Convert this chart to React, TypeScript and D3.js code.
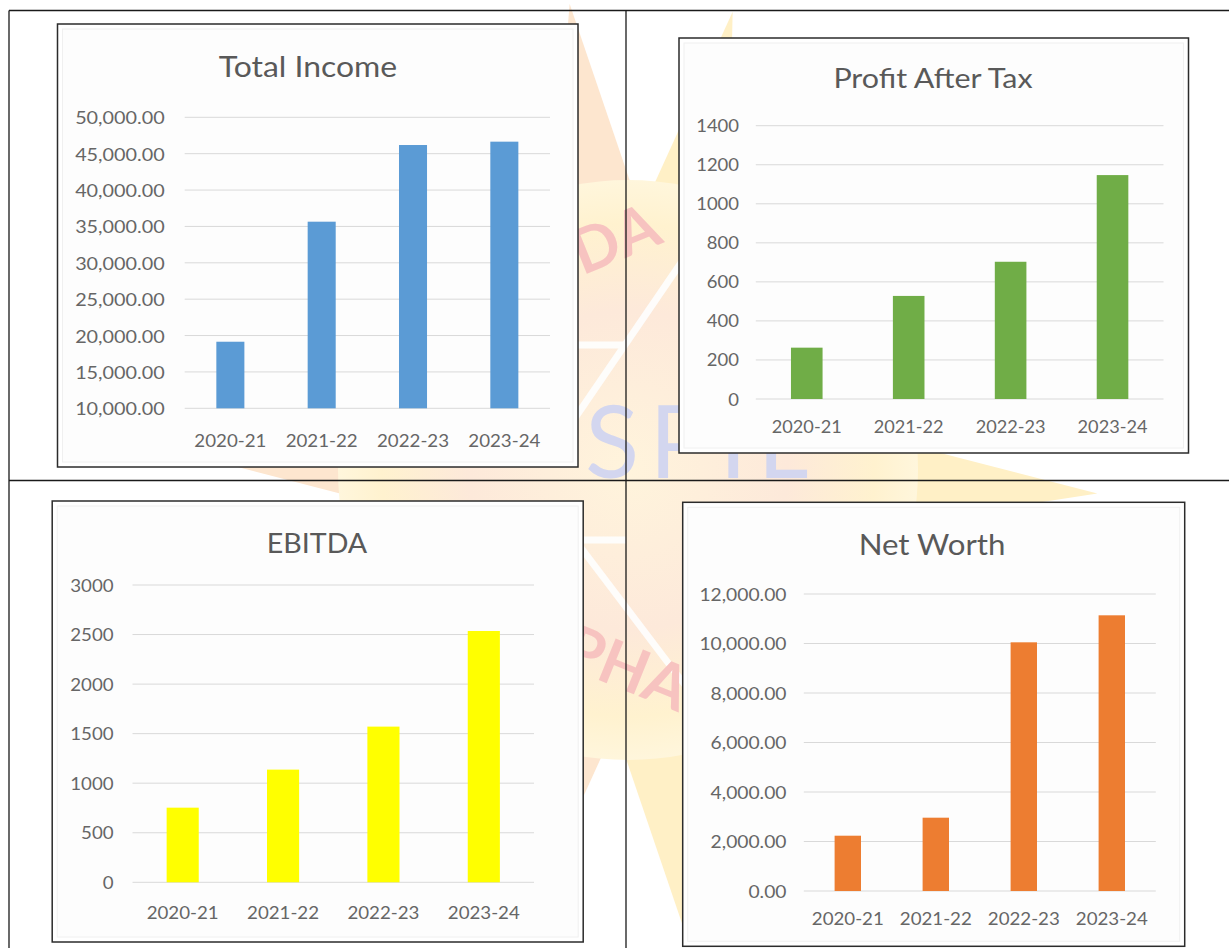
import React from "react";
import * as d3 from "d3";

const categories = ["2020-21", "2021-22", "2022-23", "2023-24"];

const totalIncome = [19150, 35650, 46190, 46650];
const profitAfterTax = [263, 528, 703, 1147];
const ebitda = [753, 1137, 1571, 2536];
const netWorth = [2234, 2962, 10048, 11139];

const totalIncomeTicks = [10000, 15000, 20000, 25000, 30000, 35000, 40000, 45000, 50000];
const profitTicks = [0, 200, 400, 600, 800, 1000, 1200, 1400];
const ebitdaTicks = [0, 500, 1000, 1500, 2000, 2500, 3000];
const netWorthTicks = [0, 2000, 4000, 6000, 8000, 10000, 12000];

const W = 1229;
const H = 948;
const FONT = "Lato, 'Open Sans', sans-serif";
const TITLE_COLOR = "#595959";
const TICK_COLOR = "#666666";
const SX = 1.1;

type Spec = {
  title: string;
  values: number[];
  ticks: number[];
  fmt: (v: number) => string;
  color: string;
  box: [number, number, number, number];
  px: [number, number];
  py: [number, number];
  barRatio: number;
  labelRight: number;
  xLabelY: number;
  titleX: number;
  titleY: number;
  titleSize: number;
  tickSize: number;
  xSize: number;
};

const fmt2 = d3.format(",.2f");
const fmt0 = d3.format("d");

const specs: Spec[] = [
  {
    title: "Total Income", values: totalIncome, ticks: totalIncomeTicks, fmt: fmt2, color: "#5B9BD5",
    box: [57.5, 24, 520.5, 443], px: [184.7, 550], py: [408.3, 117.3], barRatio: 0.307,
    labelRight: 164.7, xLabelY: 440, titleX: 308, titleY: 77.3, titleSize: 29, tickSize: 18, xSize: 17,
  },
  {
    title: "Profit After Tax", values: profitAfterTax, ticks: profitTicks, fmt: fmt0, color: "#70AD47",
    box: [679, 38, 509.5, 415], px: [755.8, 1163.5], py: [399, 125.7], barRatio: 0.31,
    labelRight: 739, xLabelY: 426.7, titleX: 933, titleY: 88.3, titleSize: 27.3, tickSize: 16.8, xSize: 16.5,
  },
  {
    title: "EBITDA", values: ebitda, ticks: ebitdaTicks, fmt: fmt0, color: "#FFFF00",
    box: [52.2, 501, 531, 441], px: [132.5, 534], py: [882.3, 585], barRatio: 0.32,
    labelRight: 113.6, xLabelY: 912.3, titleX: 317, titleY: 552.7, titleSize: 26, tickSize: 17, xSize: 17,
  },
  {
    title: "Net Worth", values: netWorth, ticks: netWorthTicks, fmt: fmt2, color: "#ED7D31",
    box: [682.7, 502.3, 502, 444], px: [803.8, 1155.8], py: [891, 594], barRatio: 0.3,
    labelRight: 786.5, xLabelY: 918, titleX: 932, titleY: 555, titleSize: 28.3, tickSize: 17.5, xSize: 17,
  },
];

let measureCtx: CanvasRenderingContext2D | null = null;
function measure(str: string, size: number): number {
  if (!measureCtx && typeof document !== "undefined") {
    measureCtx = document.createElement("canvas").getContext("2d");
  }
  if (!measureCtx) return str.length * size * 0.55;
  measureCtx.font = `${size}px Lato`;
  return measureCtx.measureText(str).width;
}

function SText({ x, y, anchor, size, children, baseline, color }: any) {
  const len = measure(String(children), size) * SX;
  return (
    <text
      x={x}
      y={y}
      textAnchor={anchor}
      dominantBaseline={baseline || "auto"}
      fontFamily={FONT}
      fontSize={size}
      fill={color}
      textLength={len}
      lengthAdjust="spacingAndGlyphs"
    >
      {children}
    </text>
  );
}

function BarChart({ s }: { s: Spec }) {
  const p = 1 - s.barRatio;
  const x = d3.scaleBand<string>().domain(categories).range(s.px).paddingInner(p).paddingOuter(p / 2);
  const dom = [s.ticks[0], s.ticks[s.ticks.length - 1]];
  const y = d3.scaleLinear().domain(dom).range(s.py);
  const [bx, by, bw, bh] = s.box;
  return (
    <g>
      <rect x={bx} y={by} width={bw} height={bh} fill="#ffffff" stroke="#2b2b2b" strokeWidth={1.5} />
      <rect x={bx + 5} y={by + 5} width={bw - 10} height={bh - 10} fill="#fdfdfd" stroke="#f0f0f0" strokeWidth={1} />
      <SText x={s.titleX} y={s.titleY} anchor="middle" size={s.titleSize} color={TITLE_COLOR}>{s.title}</SText>
      {s.ticks.map((t) => (
        <line key={"g" + t} x1={s.px[0]} x2={s.px[1]} y1={y(t)} y2={y(t)} stroke="#d9d9d9" strokeWidth={1} />
      ))}
      {s.ticks.map((t) => (
        <SText key={"t" + t} x={s.labelRight} y={y(t)} anchor="end" size={s.tickSize} baseline="central" color={TICK_COLOR}>{s.fmt(t)}</SText>
      ))}
      {categories.map((c, i) => (
        <rect
          key={c}
          x={x(c)}
          width={x.bandwidth()}
          y={y(s.values[i])}
          height={y(dom[0]) - y(s.values[i])}
          fill={s.color}
        />
      ))}
      {categories.map((c) => (
        <SText key={"x" + c} x={(x(c) as number) + x.bandwidth() / 2} y={s.xLabelY} anchor="middle" size={s.xSize} baseline="central" color={TICK_COLOR}>{c}</SText>
      ))}
    </g>
  );
}

function Watermark() {
  const cx = 628;
  const cy = 470;
  const n = 18;
  const rays = d3.range(n).map((i) => {
    const a = (i / n) * Math.PI * 2 + 0.05;
    const w = 0.17;
    const r0 = 260;
    const r1 = 470;
    const pts: [number, number][] = [
      [cx + r0 * Math.cos(a - w), cy + r0 * Math.sin(a - w)],
      [cx + r1 * Math.cos(a), cy + r1 * Math.sin(a)],
      [cx + r0 * Math.cos(a + w), cy + r0 * Math.sin(a + w)],
    ];
    return d3.line()(pts) + "Z";
  });
  return (
    <g>
      <defs>
        <radialGradient id="sun" cx="50%" cy="50%" r="50%">
          <stop offset="0%" stopColor="#fff4dc" />
          <stop offset="55%" stopColor="#fde9da" />
          <stop offset="85%" stopColor="#fff2cf" />
          <stop offset="100%" stopColor="#fff6dc" />
        </radialGradient>
      </defs>
      {rays.map((d, i) => (
        <path key={i} d={d} fill={i % 2 ? "#fde6cf" : "#fff0c6"} />
      ))}
      <circle cx={cx} cy={cy} r={290} fill="url(#sun)" />
      <g stroke="#ffffff" strokeWidth={7} opacity={0.9}>
        <line x1={700} y1={235} x2={560} y2={440} />
        <line x1={560} y1={520} x2={700} y2={705} />
        <line x1={578} y1={345} x2={626} y2={345} />
        <line x1={578} y1={540} x2={626} y2={540} />
        <line x1={1090} y1={450} x2={1160} y2={510} />
      </g>
      <text x={cx - 15} y={255} fontFamily={FONT} fontSize={62} fontWeight={700} fill="#f7c3c0" transform={`rotate(-22 ${cx} 230)`} textAnchor="middle">DA</text>
      <text x={cx} y={690} fontFamily={FONT} fontSize={62} fontWeight={700} fill="#f7c3c0" transform={`rotate(22 ${cx} 665)`} textAnchor="middle">PHA</text>
      <text x={585} y={478} fontFamily={FONT} fontSize={100} fill="#d3d6ef" letterSpacing={10}>SPIL</text>
    </g>
  );
}

export default function App() {
  return (
    <svg
      width={W}
      height={H}
      viewBox={`0 0 ${W} ${H}`}
      style={{ position: "absolute", left: 0, top: 0, background: "#ffffff" }}
    >
      <rect x={0} y={0} width={W} height={H} fill="#ffffff" />
      <Watermark />
      <g stroke="#1a1a1a" strokeWidth={1.3}>
        <line x1={9} x2={W} y1={10.5} y2={10.5} />
        <line x1={9} x2={9} y1={10.5} y2={H} />
        <line x1={626} x2={626} y1={10.5} y2={H} />
        <line x1={9} x2={W} y1={480.5} y2={480.5} />
      </g>
      {specs.map((s) => (
        <BarChart key={s.title} s={s} />
      ))}
    </svg>
  );
}
